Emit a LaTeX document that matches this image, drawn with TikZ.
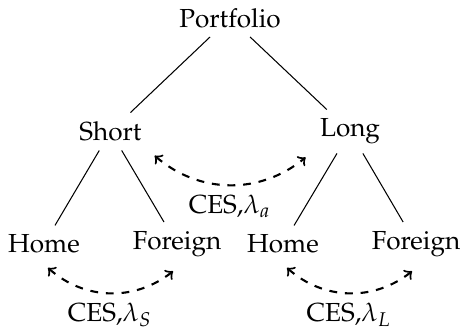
\documentclass[tikz,border=0pt]{standalone}
\usepackage[T1]{fontenc}
\usepackage{mathpazo}
\usepackage{tikz}
\begin{document}
\begin{tikzpicture}[ces/.style={<->,thick,dashed}]
    \useasboundingbox (0,0) rectangle (6.245,-4.415);
    %Levels
    \node (portfolio) at (3.096,-0.242) {Portfolio};
    \node (short) at (1.487,-1.770) {Short};
    \node (long) at (4.711,-1.770) {Long};
    \node (homeS) at (0.592,-3.284) {Home};
    \node (foreignS) at (2.382,-3.284) {Foreign};
    \node (homeL) at (3.809,-3.284) {Home};
    \node (foreignL) at (5.599,-3.284) {Foreign};
    %Branches
    \draw (portfolio) -- (short);
    \draw (portfolio) -- (long);
    \draw (short) -- (homeS);
    \draw (short) -- (foreignS);
    \draw (long) -- (homeL);
    \draw (long) -- (foreignL);
    %Substitution
    \draw [ces] ([xshift=1.5pt,yshift=-2pt]short.south east) to [bend right=40]
        node [below] {CES,$\lambda_a$} ([xshift=-2pt,yshift=-1.5pt]long.south west);
    \draw [ces] ([xshift=1.5pt,yshift=-2pt]homeS.south) to [bend right=40]
        node [below] {CES,$\lambda_S$} ([xshift=-1.5pt,yshift=-2pt]foreignS.south);
    \draw [ces] ([xshift=1.5pt,yshift=-2pt]homeL.south) to [bend right=40]
        node [below] {CES,$\lambda_L$} ([xshift=-1.5pt,yshift=-2pt]foreignL.south);
\end{tikzpicture}
\end{document}
